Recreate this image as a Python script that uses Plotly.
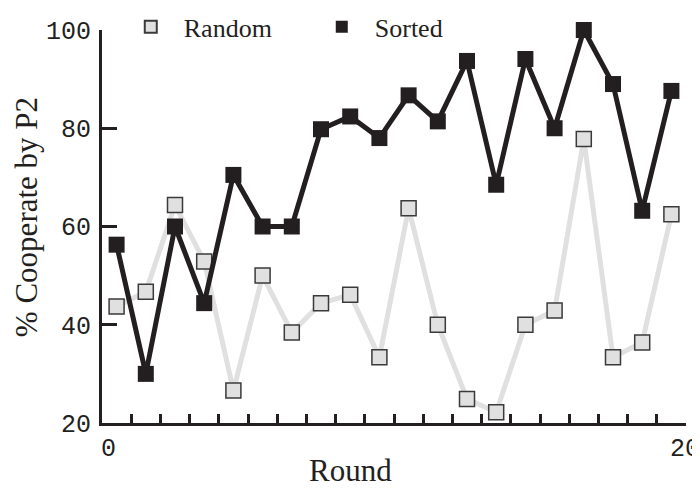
import plotly.graph_objects as go

rounds = [0.5 + i for i in range(20)]
random_vals = [43.7, 46.7, 64.4, 52.9, 26.6, 50.0, 38.4, 44.4, 46.1, 33.4,
               63.7, 40.0, 24.9, 22.2, 40.0, 42.9, 77.8, 33.4, 36.4, 62.5]
sorted_vals = [56.3, 30.0, 60.0, 44.4, 70.5, 60.0, 60.0, 79.8, 82.4, 78.0,
               86.7, 81.4, 93.7, 68.5, 94.1, 80.0, 100.0, 89.0, 63.2, 87.6]
y_ticks = [20, 40, 60, 80, 100]
x_ticks = [0, 20]
x_ticktext = ["\u20070", "20"]   # figure space nudges the "0" right as in the original
x_title = "Round"
y_title = "% Cooperate by P2"

DARK = "#231f20"
LIGHT = "#e0e0e0"
SERIF = "Liberation Serif, Times New Roman, serif"
MONO = "Liberation Mono, Courier New, monospace"

fig = go.Figure()
fig.add_trace(go.Scatter(
    x=rounds, y=random_vals, mode="lines+markers", name="Random",
    line=dict(color=LIGHT, width=5),
    marker=dict(symbol="square", size=15, color=LIGHT, line=dict(color="#3a3a3a", width=1.5)),
    cliponaxis=False, showlegend=False))
fig.add_trace(go.Scatter(
    x=rounds, y=sorted_vals, mode="lines+markers", name="Sorted",
    line=dict(color=DARK, width=5),
    marker=dict(symbol="square", size=16, color=DARK, line=dict(color=DARK, width=0)),
    cliponaxis=False, showlegend=False))
# legend entries (markers only)
fig.add_trace(go.Scatter(
    x=[None], y=[None], mode="markers", name="Random",
    marker=dict(symbol="square", size=15, color=LIGHT, line=dict(color="#3a3a3a", width=1.5))))
fig.add_trace(go.Scatter(
    x=[None], y=[None], mode="markers", name="Sorted",
    marker=dict(symbol="square", size=16, color=DARK, line=dict(color=DARK, width=0))))

# page body has an 8px margin, so the figure is 8px smaller and margins shifted
fig.update_layout(
    width=692, height=483,
    margin=dict(l=93.5, r=14, t=22, b=67.7, pad=0, autoexpand=False),
    paper_bgcolor="white", plot_bgcolor="white",
    font=dict(family=SERIF, color=DARK),
    showlegend=True,
    legend=dict(orientation="h", x=0.027, y=1.068, xanchor="left", yanchor="top",
                font=dict(family=SERIF, size=26, color=DARK),
                entrywidth=120, entrywidthmode="pixels", itemwidth=56,
                bgcolor="rgba(0,0,0,0)", itemsizing="constant"),
    xaxis=dict(range=[0, 20], tickvals=x_ticks, ticktext=x_ticktext, automargin=False,
               showline=True, linecolor=DARK, linewidth=3, showgrid=False, zeroline=False,
               ticks="inside", ticklen=9, tickwidth=2.5, tickcolor=DARK,
               minor=dict(dtick=1, ticks="inside", ticklen=9, tickwidth=2.5, tickcolor=DARK, showgrid=False),
               tickfont=dict(family=MONO, size=25, color=DARK),
               ticklabelshift=-1, ticklabelstandoff=0, ticklabeloverflow="allow"),
    yaxis=dict(range=[20, 100], tickvals=y_ticks, automargin=False,
               showline=True, linecolor=DARK, linewidth=3, showgrid=False, zeroline=False,
               ticks="inside", ticklen=15, tickwidth=2.5, tickcolor=DARK,
               tickfont=dict(family=MONO, size=25, color=DARK),
               ticklabelstandoff=3),
    annotations=[
        dict(text=x_title, xref="paper", yref="paper", x=0.4252, y=-0.1213,
             xanchor="center", yanchor="middle", showarrow=False, borderpad=0,
             font=dict(family=SERIF, size=31, color=DARK)),
        dict(text=y_title, xref="paper", yref="paper", x=-0.129, y=0.523,
             xanchor="center", yanchor="middle", textangle=-90, showarrow=False,
             font=dict(family=SERIF, size=31, color=DARK)),
    ],
)

fig.write_html("out.html")
